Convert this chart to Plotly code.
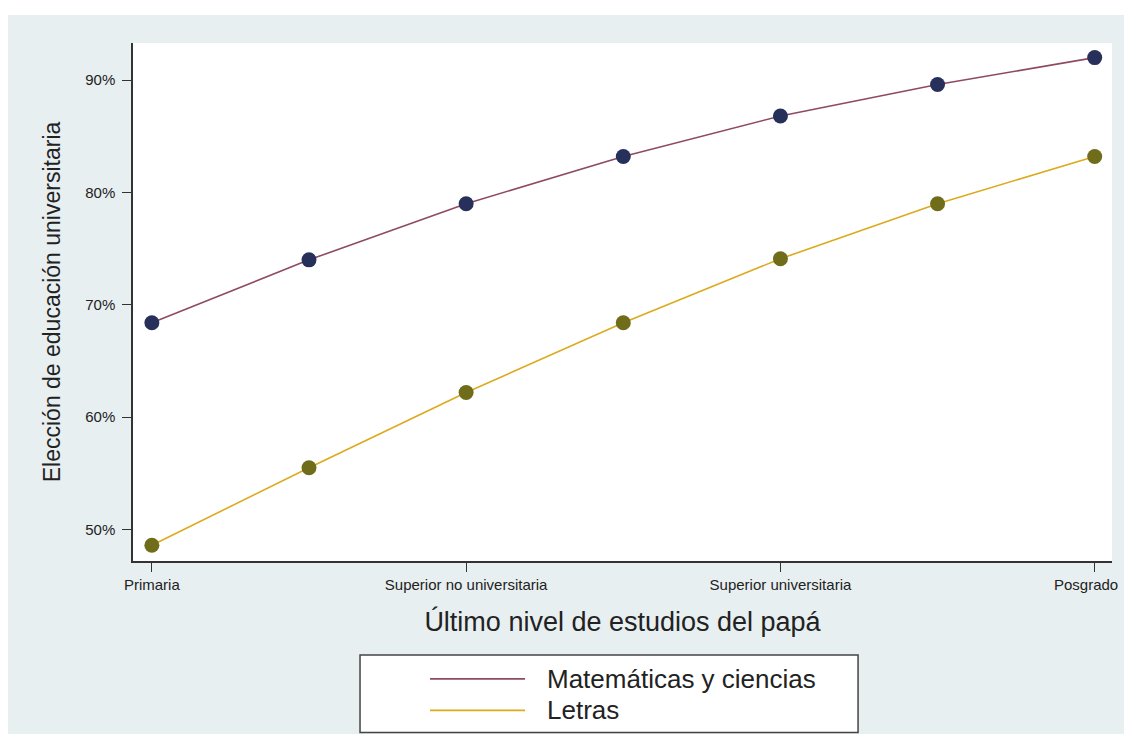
import plotly.graph_objects as go

niveles = [0, 1, 2, 3, 4, 5, 6]
tick_pos = [0, 2, 4, 6]
tick_text = ["Primaria", "Superior no universitaria", "Superior universitaria", "Posgrado"]

matematicas = [68.4, 74.0, 79.0, 83.2, 86.8, 89.6, 92.0]
letras = [48.6, 55.5, 62.2, 68.4, 74.1, 79.0, 83.2]

series = ["Matemáticas y ciencias", "Letras"]
line_colors = ["#8e4a62", "#dcaa1c"]
marker_colors = ["#27305a", "#6f6c1a"]

y_ticks = [50, 60, 70, 80, 90]
y_labels = [f"{v}%" for v in y_ticks]

FONT = "Liberation Sans, Arial, sans-serif"

fig = go.Figure()

for vals, lc, mc in zip([matematicas, letras], line_colors, marker_colors):
    fig.add_trace(go.Scatter(x=niveles, y=vals, mode="lines",
                             line=dict(color=lc, width=1.6), showlegend=False))
    fig.add_trace(go.Scatter(x=niveles, y=vals, mode="markers",
                             marker=dict(color=mc, size=15), showlegend=False))

# leyenda dibujada a mano (recuadro, lineas y textos)
shapes = [
    dict(type="rect", xref="paper", yref="paper", x0=-0.2, x1=1.1, y0=1.054, y1=1.3,
         fillcolor="white", line=dict(width=0), layer="below"),
    dict(type="rect", xref="paper", yref="paper", x0=0.2319, x1=0.7406, y0=-0.1815, y1=-0.331,
         fillcolor="white", line=dict(color="#444", width=1.5)),
]
annotations = []
for i, (name, lc) in enumerate(zip(series, line_colors)):
    yy = -0.2277 - i * 0.0608
    shapes.append(dict(type="line", xref="paper", yref="paper", x0=0.3034, x1=0.4004,
                       y0=yy, y1=yy, line=dict(color=lc, width=1.8)))
    annotations.append(dict(text=name, xref="paper", yref="paper", x=0.4208, y=yy,
                            xanchor="left", yanchor="middle", showarrow=False,
                            font=dict(size=26, color="#222")))

# la ultima etiqueta del eje x queda metida hacia dentro (como en el original)
annotations.append(dict(text=tick_text[-1], x=tick_pos[-1], xref="x", y=-0.0463, yref="paper",
                        xanchor="center", yanchor="middle", xshift=-9, showarrow=False,
                        font=dict(size=15, color="#222")))
axis_text = tick_text[:-1] + [""]

fig.update_layout(
    width=1116, height=726,
    margin=dict(l=125, r=12, t=35, b=173),
    paper_bgcolor="#e8eff1",
    plot_bgcolor="white",
    font=dict(family=FONT, color="#222"),
    shapes=shapes,
    annotations=annotations,
)

fig.update_xaxes(
    range=[-0.12, 6.11], tickvals=tick_pos, ticktext=axis_text,
    showgrid=False, zeroline=False,
    showline=True, linecolor="#333", linewidth=1.5,
    ticks="outside", ticklen=9, tickcolor="#333",
    tickfont=dict(size=15, color="#222"),
    title=dict(text="Último nivel de estudios del papá", font=dict(size=27, color="#222"), standoff=20),
)
fig.update_yaxes(
    range=[47.2, 93.3], tickvals=y_ticks, ticktext=y_labels,
    showgrid=False, zeroline=False,
    showline=True, linecolor="#333", linewidth=1.5,
    ticks="outside", ticklen=9, tickcolor="#333", ticklabelstandoff=4,
    tickfont=dict(size=15, color="#222"),
    title=dict(text="Elección de educación universitaria", font=dict(size=23, color="#222"), standoff=18),
)

fig.write_html("out.html")
